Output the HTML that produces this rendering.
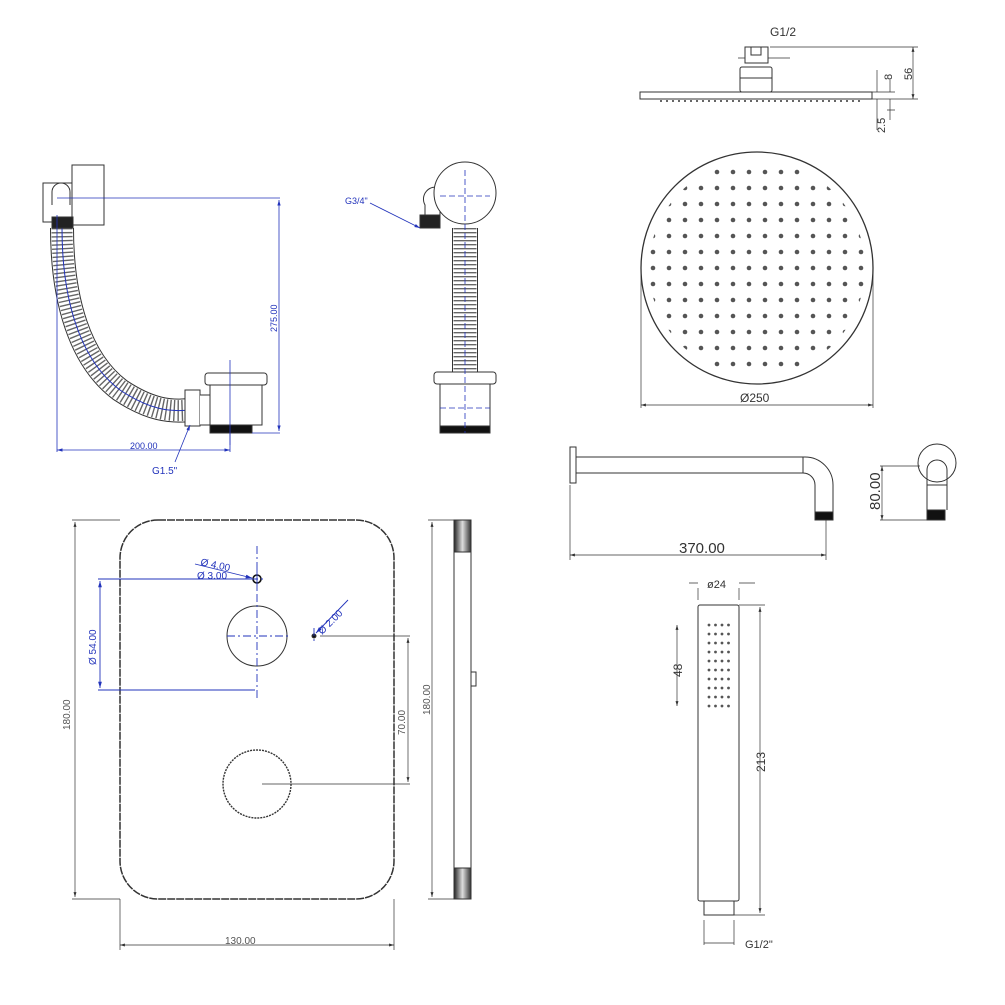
<!DOCTYPE html>
<html><head><meta charset="utf-8"><style>html,body{margin:0;padding:0;background:#fff}svg{display:block}text{font-family:"Liberation Sans",sans-serif}</style></head><body>
<svg width="1005" height="1005" viewBox="0 0 1005 1005" xmlns="http://www.w3.org/2000/svg">
<defs>
<pattern id="dots" x="5" y="4" width="16" height="16" patternUnits="userSpaceOnUse"><circle cx="8" cy="8" r="2.3" fill="#555"/></pattern>
<pattern id="hd" x="706" y="621" width="6.5" height="9" patternUnits="userSpaceOnUse"><circle cx="3" cy="4" r="1.4" fill="#555"/></pattern>
<linearGradient id="g1" x1="0" y1="0" x2="1" y2="0"><stop offset="0" stop-color="#222"/><stop offset=".5" stop-color="#ddd"/><stop offset="1" stop-color="#333"/></linearGradient>
<marker id="a" viewBox="0 0 10 10" refX="10" refY="5" markerWidth="7" markerHeight="7" orient="auto-start-reverse"><path d="M0,2 L10,5 L0,8z" fill="#333"/></marker>
<marker id="ab" viewBox="0 0 10 10" refX="10" refY="5" markerWidth="7" markerHeight="7" orient="auto-start-reverse"><path d="M0,2 L10,5 L0,8z" fill="#2233bb"/></marker>
</defs>
<g fill="none" stroke="#333" stroke-width="1">
<!-- shower head side -->
<rect x="640" y="92" width="232" height="7"/>
<rect x="740" y="67" width="32" height="25" rx="2"/>
<line x1="740" y1="78" x2="772" y2="78"/>
<rect x="745" y="47" width="23" height="16"/>
<path d="M751 47 v8 h10 v-8"/>
<path d="M660 101 H860" stroke="#666" stroke-width="2" stroke-dasharray="2 4"/>
<path d="M738 58 H745 M768 58 H790 M770 47 H918 M872 99 H918 M872 92 H895 M887 110 H895" stroke-width=".7"/>
<path d="M913 47 V99" marker-start="url(#a)" marker-end="url(#a)" stroke-width=".7"/>
<path d="M890 80 V92 M890 99 V120 M877 70 V92 M877 99 V130" stroke-width=".7"/>
<!-- top view -->
<circle cx="757" cy="268" r="116" stroke-width="1.3"/>
<circle cx="757" cy="268" r="108" fill="url(#dots)" stroke="none"/>
<path d="M641 268 V408 M873 268 V408" stroke-width=".7"/>
<path d="M641 405 H873" marker-start="url(#a)" marker-end="url(#a)" stroke-width=".7"/>
<!-- arm -->
<rect x="570" y="447" width="6" height="36"/>
<path d="M576 457 H805 A28 28 0 0 1 833 485 V512 M576 473 H803 A12 12 0 0 1 815 485 V512"/>
<line x1="803" y1="457" x2="803" y2="473"/>
<rect x="815" y="512" width="18" height="8" fill="#111"/>
<path d="M570 485 V560 M826 520 V560" stroke-width=".7"/>
<path d="M570 555 H826" marker-start="url(#a)" marker-end="url(#a)" stroke-width=".7"/>
<circle cx="937" cy="463" r="19"/>
<path d="M927 510 V470 A10 10 0 0 1 947 470 V510 M927 485 H947"/>
<rect x="927" y="510" width="18" height="10" fill="#111"/>
<path d="M880 466 H920 M880 520 H927" stroke-width=".7"/>
<path d="M882 466 V520" marker-start="url(#a)" marker-end="url(#a)" stroke-width=".7"/>
<!-- hand shower -->
<rect x="698" y="605" width="41" height="296" rx="2"/>
<rect x="704" y="901" width="30" height="14"/>
<rect x="706" y="621" width="26" height="90" fill="url(#hd)" stroke="none"/>
<path d="M698 588 V600 M739 588 V600 M689 583 H698 M739 583 H755 M704 920 V945 M734 920 V945 M704 943 H734 M739 605 H765 M734 915 H765" stroke-width=".7"/>
<path d="M760 607 V913" marker-start="url(#a)" marker-end="url(#a)" stroke-width=".7"/>
<path d="M677 625 V706" marker-start="url(#a)" marker-end="url(#a)" stroke-width=".7"/>
<!-- plate -->
<rect x="120" y="520" width="274" height="379" rx="38" stroke-width="1.5" stroke-dasharray="8 1"/>
<circle cx="257" cy="636" r="30"/>
<circle cx="257" cy="784" r="34" stroke-dasharray="2 1" stroke-width="1.4"/>
<circle cx="257" cy="579" r="4" stroke="#111" stroke-width="1.6"/>
<circle cx="314" cy="636" r="2" fill="#111"/>
<path d="M262 784 H410 M320 636 H410 M120 899 V950 M394 899 V950 M72 899 H120 M72 520 H120 M428 520 H454 M428 899 H454" stroke-width=".7"/>
<path d="M120 945 H394" marker-start="url(#a)" marker-end="url(#a)" stroke-width=".7"/>
<path d="M75 522 V897" marker-start="url(#a)" marker-end="url(#a)" stroke-width=".7"/>
<path d="M408 638 V782" marker-start="url(#a)" marker-end="url(#a)" stroke-width=".7"/>
<path d="M432 522 V897" marker-start="url(#a)" marker-end="url(#a)" stroke-width=".7"/>
<rect x="454" y="520" width="17" height="379" fill="#fff"/>
<rect x="454" y="520" width="17" height="32" fill="url(#g1)"/>
<rect x="454" y="868" width="17" height="31" fill="url(#g1)"/>
<rect x="471" y="672" width="5" height="14"/>
<g stroke="#2233bb" stroke-width=".9">
<path d="M257 546 V700 M227 636 H290 M257 570 V590 M250 579 H265 M314 628 V644" stroke-dasharray="8 3 2 3"/>
<path d="M98 579 H257 M98 690 H255"/>
<path d="M100 581 V688" marker-start="url(#ab)" marker-end="url(#ab)"/>
<path d="M195 564 L252 578" marker-end="url(#ab)"/>
<path d="M348 600 L316 633" marker-end="url(#ab)"/>
</g>
<!-- hose 1 -->
<path d="M62 228 C62 300 80 360 120 390 C150 410 170 412 190 410" stroke="#333" stroke-width="24"/>
<path d="M62 228 C62 300 80 360 120 390 C150 410 170 412 190 410" stroke="#fff" stroke-width="22"/>
<path d="M62 228 C62 300 80 360 120 390 C150 410 170 412 190 410" stroke="#666" stroke-width="21" stroke-dasharray="1.4 2.6"/>
<path d="M62 228 C62 300 80 360 120 390 C150 410 170 412 190 410" stroke="#2233bb" stroke-width="1"/>
<rect x="43" y="183" width="29" height="39" fill="#fff"/>
<path d="M52 205 V192 A9 9 0 0 1 70 192 V205" />
<rect x="72" y="165" width="32" height="60" fill="#fff"/>
<rect x="52" y="217" width="21" height="11" fill="#222"/>
<rect x="185" y="390" width="15" height="36" fill="#fff"/>
<path d="M200 395 H215 A15 15 0 0 1 215 425 H200" fill="#fff"/>
<rect x="205" y="373" width="62" height="12" rx="3" fill="#fff"/>
<rect x="210" y="385" width="52" height="40" fill="#fff"/>
<rect x="210" y="425" width="42" height="8" fill="#111"/>
<path d="M230 360 V445" stroke="#2233bb" stroke-width=".8"/>
<g stroke="#2233bb" stroke-width=".8">
<path d="M57 198 H280 M57 215 V452 M230 433 V452 M252 433 H280"/>
<path d="M279 200 V431" marker-start="url(#ab)" marker-end="url(#ab)"/>
<path d="M57 450 H230" marker-start="url(#ab)" marker-end="url(#ab)"/>
<path d="M175 462 L190 425" marker-end="url(#ab)"/>
</g>
<!-- hose 2 -->
<path d="M465 228 V372" stroke="#333" stroke-width="26"/>
<path d="M465 228 V372" stroke="#fff" stroke-width="24"/>
<path d="M465 228 V372" stroke="#666" stroke-width="23" stroke-dasharray="1.4 2.6"/>
<path d="M425 205 A12 12 0 0 1 440 188 V225 H425z" fill="#fff"/>
<rect x="420" y="215" width="20" height="13" fill="#222"/>
<circle cx="465" cy="193" r="31" fill="#fff"/>
<rect x="434" y="372" width="62" height="12" rx="3" fill="#fff"/>
<rect x="440" y="384" width="50" height="42" fill="#fff"/>
<rect x="440" y="426" width="50" height="7" fill="#111"/>
<path d="M465 170 V433 M440 408 H490 M440 196 H490" stroke="#2233bb" stroke-width=".8" stroke-dasharray="6 3"/>
<path d="M370 203 L420 228" stroke="#2233bb" stroke-width=".8" marker-end="url(#ab)"/>
</g>
<g fill="#333" font-size="11">
<text x="770" y="36" font-size="12">G1/2</text>
<text transform="translate(912,80) rotate(-90)" font-size="11">56</text>
<text transform="translate(892,80) rotate(-90)" font-size="11">8</text>
<text transform="translate(885,133) rotate(-90)" font-size="11">2.5</text>
<text x="740" y="402" font-size="12">Ø250</text>
<text x="679" y="553" font-size="15">370.00</text>
<text transform="translate(880,510) rotate(-90)" font-size="15">80.00</text>
<text x="707" y="588" font-size="11">ø24</text>
<text transform="translate(682,677) rotate(-90)" font-size="12">48</text>
<text transform="translate(765,772) rotate(-90)" font-size="12">213</text>
<text x="745" y="948" font-size="11">G1/2"</text>
<text x="225" y="944" font-size="10" fill="#555">130.00</text>
<text transform="translate(70,730) rotate(-90)" font-size="10" fill="#555">180.00</text>
<text transform="translate(430,715) rotate(-90)" font-size="10" fill="#555">180.00</text>
<text transform="translate(405,735) rotate(-90)" font-size="10" fill="#555">70.00</text>
</g>
<g fill="#2233bb" font-size="10">
<text transform="translate(200,565) rotate(12)">Ø 4.00</text>
<text x="197" y="579">Ø 3.00</text>
<text transform="translate(322,635) rotate(-45)">Ø 2.00</text>
<text transform="translate(96,665) rotate(-90)">Ø 54.00</text>
<text transform="translate(277,332) rotate(-90)" font-size="9">275.00</text>
<text x="130" y="449" font-size="9">200.00</text>
<text x="152" y="474" font-size="10">G1.5"</text>
<text x="345" y="204" font-size="9">G3/4"</text>
</g>
</svg>
</body></html>
